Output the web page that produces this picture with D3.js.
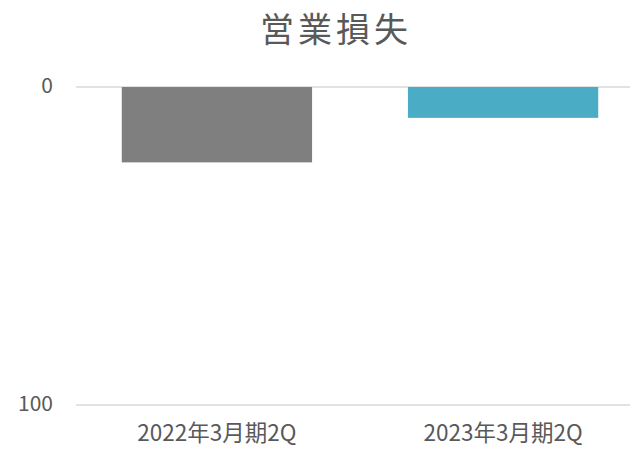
<!DOCTYPE html>
<html><head><meta charset="utf-8">
<script src="https://cdn.jsdelivr.net/npm/d3@7"></script>
<style>body{margin:0;background:#fff}svg{display:block}</style>
</head><body>
<script>
const categories = ["2022年3月期2Q", "2023年3月期2Q"];
const values = [23.7, 9.7];
const colors = ["#7f7f7f", "#4bacc6"];
const yTicks = [0, 100];
const title = "営業損失";

const W = 630, H = 449;
const font = "'Noto Sans CJK JP', 'Noto Sans', sans-serif";
const svg = d3.select("body").append("svg").attr("width", W).attr("height", H);

const x = d3.scaleBand().domain(categories).range([74, 646]).paddingInner(0.335).paddingOuter(0.167);
const y = d3.scaleLinear().domain([0, 100]).range([87, 405]);

svg.append("text").attr("x", 336).attr("y", 42).attr("text-anchor", "middle")
  .attr("font-family", font).attr("font-size", 34).attr("letter-spacing", 4).attr("fill", "#595959").text(title);

svg.selectAll(".grid").data(yTicks).enter().append("line")
  .attr("x1", 76).attr("x2", W).attr("y1", d => y(d)).attr("y2", d => y(d))
  .attr("stroke", "#d9d9d9").attr("stroke-width", 1.5);

svg.selectAll(".bar").data(values).enter().append("rect")
  .attr("x", (d, i) => x(categories[i])).attr("width", x.bandwidth())
  .attr("y", y(0)).attr("height", d => y(d) - y(0))
  .attr("fill", (d, i) => colors[i]);

svg.selectAll(".yt").data(yTicks).enter().append("text")
  .attr("x", 53).attr("y", d => y(d) - 1).attr("dy", "0.35em").attr("text-anchor", "end")
  .attr("font-family", font).attr("font-size", 21).attr("fill", "#595959").text(d => d);

svg.selectAll(".xt").data(categories).enter().append("text")
  .attr("x", d => x(d) + x.bandwidth() / 2).attr("y", 441).attr("text-anchor", "middle")
  .attr("font-family", font).attr("font-size", 22.5).attr("fill", "#595959").text(d => d);
</script>
</body></html>
